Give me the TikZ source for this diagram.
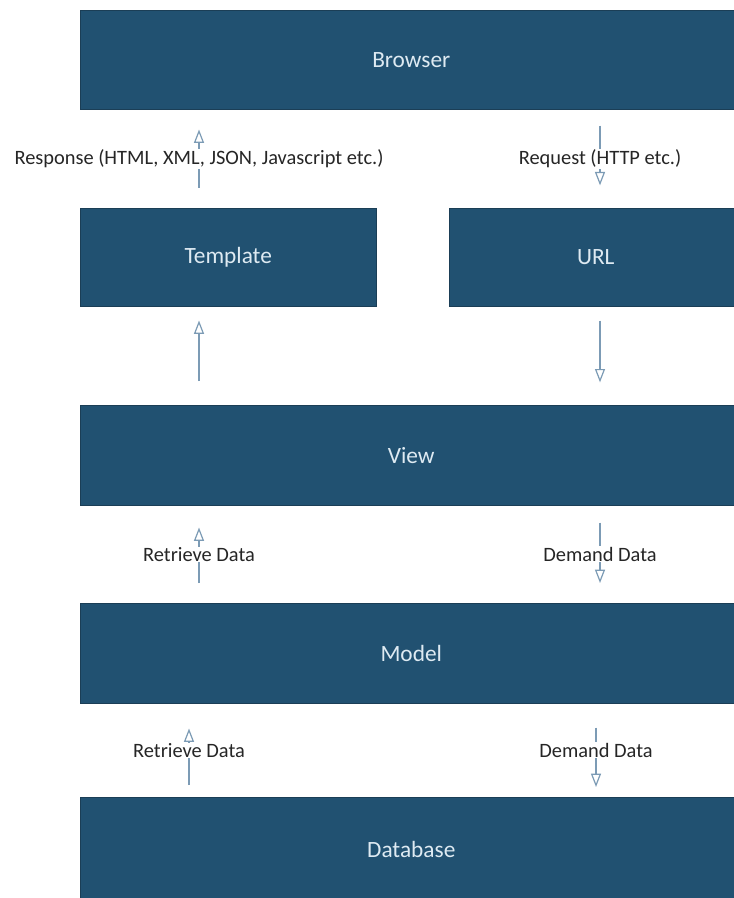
\documentclass[tikz,border=0pt]{standalone}
\usepackage{fontspec}
\setmainfont{Carlito}
\usetikzlibrary{arrows.meta, positioning, calc}

\definecolor{boxblue}{RGB}{33,81,113}
\definecolor{boxedge}{RGB}{27,62,86}
\definecolor{boxtext}{RGB}{222,234,242}
\definecolor{flowline}{RGB}{124,155,181}

\begin{document}
\begin{tikzpicture}[
  x=0.75pt, y=-0.75pt,
  box/.style={
    draw=boxedge,
    fill=boxblue,
    anchor=north west,
    inner sep=0pt,
    text=boxtext,
    font=\fontsize{17.5}{20}\selectfont
  },
  flow/.style={
    draw=flowline,
    line width=0.9pt,
    -{Triangle[open, length=10pt, width=7.5pt]}
  },
  lbl/.style={
    fill=white,
    inner sep=0.5pt,
    text=black!85,
    font=\fontsize{15.3}{18}\selectfont
  }
]

\fill[white] (0,0) rectangle (734,898);
\useasboundingbox (0,0) rectangle (734,898);

% First row
\node[box, minimum width=496.5pt, minimum height=74.25pt] (browser) at (80,10) {Browser};

% Second row
\node[box, minimum width=222pt, minimum height=73.5pt] (template) at (80,208) {Template};
\node[box, minimum width=219.75pt, minimum height=73.5pt] (url) at (449,208) {URL};

% Third to fifth row
\node[box, minimum width=496.5pt, minimum height=75pt] (view) at (80,405) {View};
\node[box, minimum width=496.5pt, minimum height=75pt] (model) at (80,603) {Model};
\node[box, minimum width=496.5pt, minimum height=78pt] (db) at (80,797) {Database};

% Columns of the arrows
\coordinate (upA) at (199,0);
\coordinate (downA) at (600,0);
\coordinate (upB) at (189,0);
\coordinate (downB) at (596,0);

% Arrows with labels
\draw[flow, shorten <=15pt, shorten >=15pt] (template.north -| upA) -- node[lbl] {Response (HTML, XML, JSON, Javascript etc.)} (browser.south -| upA);
\draw[flow, shorten <=12pt, shorten >=17pt] (browser.south -| downA) -- node[lbl] {Request (HTTP etc.)} (url.north -| downA);

\draw[flow, shorten <=18pt, shorten >=10.5pt] (view.north -| upA) -- (template.south -| upA);
\draw[flow, shorten <=10.5pt, shorten >=17pt] (url.south -| downA) -- (view.north -| downA);

\draw[flow, shorten <=15pt, shorten >=16.5pt] (model.north -| upA) -- node[lbl] {Retrieve Data} (view.south -| upA);
\draw[flow, shorten <=12.75pt, shorten >=15pt] (view.south -| downA) -- node[lbl] {Demand Data} (model.north -| downA);

\draw[flow, shorten <=9pt, shorten >=18.75pt] (db.north -| upB) -- node[lbl] {Retrieve Data} (model.south -| upB);
\draw[flow, shorten <=18pt, shorten >=7.5pt] (model.south -| downB) -- node[lbl] {Demand Data} (db.north -| downB);

\end{tikzpicture}
\end{document}
